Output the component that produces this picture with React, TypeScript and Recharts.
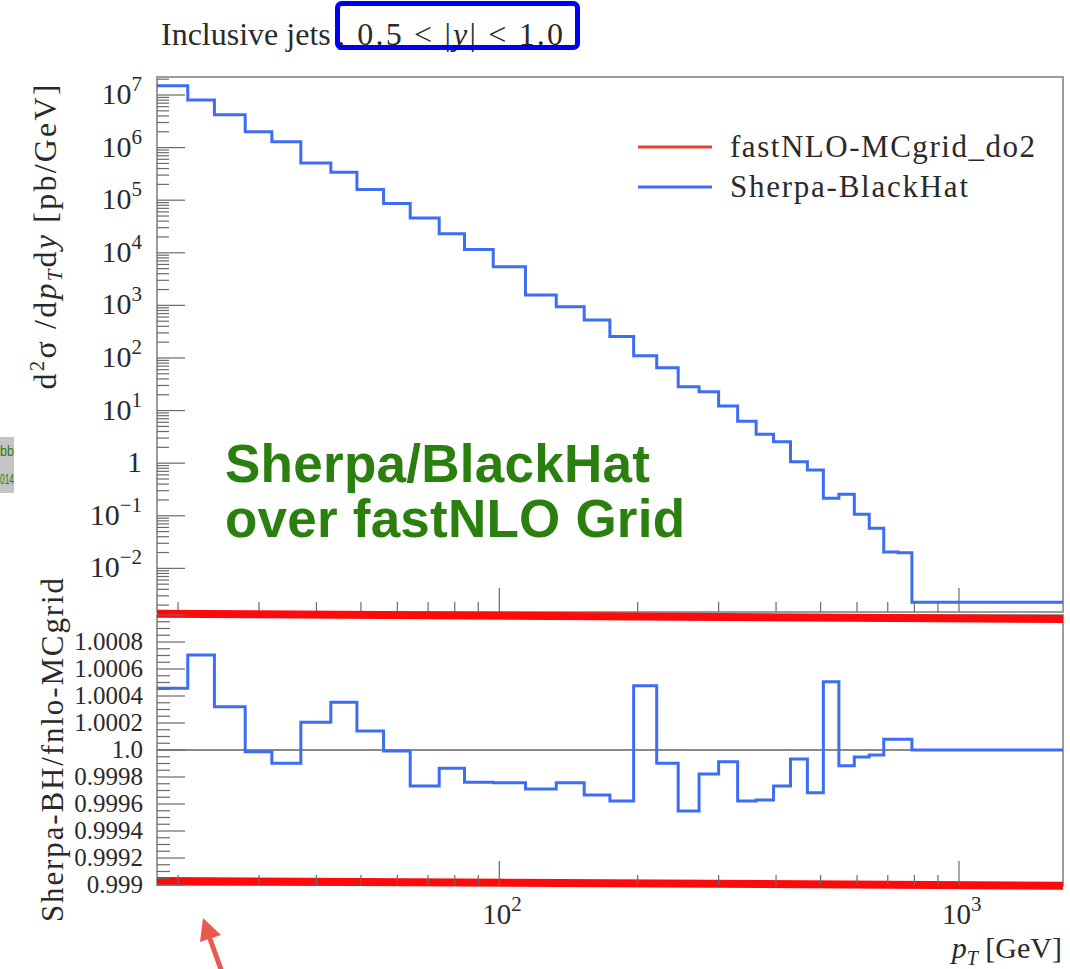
import React from 'react';
import { LineChart, Line, XAxis, YAxis, ReferenceLine, ReferenceArea, Legend } from 'recharts';

// pT bin edges [GeV] (last edge closes the final bin)
const ptEdges = [
  18, 21, 24, 28, 32, 37, 43, 49, 56, 64, 74, 84, 97, 114, 133, 153, 174, 196, 220, 245, 272, 300,
  330, 362, 395, 430, 468, 507, 548, 592, 638, 686, 737, 790, 846, 905, 967, 1032, 1101, 1172, 1248,
  1327, 1410, 1497, 1588, 1684,
];

// Sherpa-BlackHat d2sigma/dpT dy [pb/GeV], one value per bin
const xsecValues = [
  1.5e7, 8.0e6, 4.2e6, 2.0e6, 1.29e6, 5.1e5, 3.4e5, 1.6e5, 8.7e4, 4.6e4, 2.3e4, 1.16e4, 5.4e3, 1.57e3,
  940, 530, 255, 110, 65, 28.4, 22.9, 12.2, 6.3, 3.54, 2.56, 1.07, 0.74, 0.215, 0.256, 0.107, 0.058,
  0.0205, 0.0198, 0.00226, 0.00226, 0.00226, 0.00226, 0.00226, 0.00226, 0.00226, 0.00226, 0.00226,
  0.00226, 0.00226, 0.00226,
];

// Sherpa-BH / fnlo-MCgrid ratio, one value per bin
const ratioValues = [
  1.000457, 1.000704, 1.000321, 0.999987, 0.999901, 1.000205, 1.000353, 1.000141, 0.999993, 0.999733,
  0.999864, 0.999761, 0.999758, 0.999711, 0.999758, 0.999667, 0.999622, 1.000476, 0.999901, 0.999548,
  0.999822, 0.999913, 0.999622, 0.99963, 0.999733, 0.999933, 0.999684, 1.000506, 0.999884, 0.999948,
  0.999963, 1.000079, 1.000079, 1.0, 1.0, 1.0, 1.0, 1.0, 1.0, 1.0, 1.0, 1.0, 1.0, 1.0, 1.0,
];

const seriesNames = ['fastNLO-MCgrid_do2', 'Sherpa-BlackHat'];
const seriesColors = ['#e2452f', '#3d6df2'];

const ptMajorTicks = [100, 1000];
const ptMajorExponents = [2, 3];
const ptMinorTicks = [20, 30, 40, 50, 60, 70, 80, 90, 200, 300, 400, 500, 600, 700, 800, 900];

const xsecMajorExponents = [-2, -1, 0, 1, 2, 3, 4, 5, 6, 7];
const ratioMajorTicks = [0.999, 0.9992, 0.9994, 0.9996, 0.9998, 1.0, 1.0002, 1.0004, 1.0006, 1.0008, 1.001];
const ratioTickLabels = ['0.999', '0.9992', '0.9994', '0.9996', '0.9998', '1.0', '1.0002', '1.0004', '1.0006', '1.0008', ''];

const PT_MIN = 18;
const PT_MAX = 1684;
const XSEC_MIN = 1.48e-3;
const XSEC_MAX = 2.2e7;
const RATIO_MIN = 0.999;
const RATIO_MAX = 1.001;

const SERIF = '"Liberation Serif", "DejaVu Serif", serif';
const SANS = '"Liberation Sans", Arial, sans-serif';
const TEXT = '#2a2a2a';
const TICK = '#6a6a6a';
const GREEN = '#2a7f0e';

const serifStyle = (size: number): React.CSSProperties => ({ fontFamily: SERIF, fontSize: size });

// histogram as step line: one point per low edge, last edge repeats the last bin
const histData = ptEdges.map((pt, i) => {
  const b = Math.min(i, xsecValues.length - 1);
  return { pt, xsec: xsecValues[b], ratio: ratioValues[b] };
});

const ptTicks = [...ptMinorTicks, ...ptMajorTicks].sort((a, b) => a - b);

const xsecTicks: number[] = [];
for (let k = -3; k <= 7; k++) {
  for (let m = 1; m <= 9; m++) {
    const v = m * Math.pow(10, k);
    if (v >= XSEC_MIN && v <= XSEC_MAX) xsecTicks.push(v);
  }
}

const ratioTicks: number[] = [];
for (let i = 0; i < ratioMajorTicks.length; i++) {
  ratioTicks.push(ratioMajorTicks[i]);
  if (i < ratioMajorTicks.length - 1) {
    const step = (ratioMajorTicks[i + 1] - ratioMajorTicks[i]) / 4;
    for (let j = 1; j < 4; j++) ratioTicks.push(ratioMajorTicks[i] + j * step);
  }
}

const XsecTick = ({ x, y, payload }: any) => {
  const v = payload.value as number;
  const exp = Math.round(Math.log10(v));
  const major = xsecMajorExponents.includes(exp) && Math.abs(v / Math.pow(10, exp) - 1) < 1e-6;
  return (
    <g>
      <line x1={x} x2={x + (major ? 28 : 12)} y1={y} y2={y} stroke={TICK} strokeWidth={1.2} />
      {major && (
        <text x={x - 15} y={y + 9} textAnchor="end" style={serifStyle(30)} fill={TEXT}>
          {exp === 0 ? '1' : '10'}
          {exp !== 0 && (
            <tspan dy={-13} style={serifStyle(21)}>
              {exp < 0 ? `\u2212${-exp}` : `${exp}`}
            </tspan>
          )}
        </text>
      )}
    </g>
  );
};

const RatioTick = ({ x, y, payload }: any) => {
  const v = payload.value as number;
  const idx = ratioMajorTicks.findIndex((t) => Math.abs(t - v) < 1e-7);
  const major = idx >= 0;
  return (
    <g>
      <line x1={x} x2={x + (major ? 28 : 13)} y1={y} y2={y} stroke={TICK} strokeWidth={1.2} />
      {major && ratioTickLabels[idx] && (
        <text x={x - 14} y={y + 8} textAnchor="end" style={serifStyle(25)} fill={TEXT}>
          {ratioTickLabels[idx]}
        </text>
      )}
    </g>
  );
};

const PtTick = ({ x, y, payload, showLabels }: any) => {
  const v = payload.value as number;
  const idx = ptMajorTicks.indexOf(v);
  const major = idx >= 0;
  return (
    <g>
      <line x1={x} x2={x} y1={y} y2={y - (major ? 24 : 10)} stroke={TICK} strokeWidth={1.2} />
      {major && showLabels && (
        <text x={x - 17} y={y + 39} style={serifStyle(29)} fill={TEXT}>
          10
          <tspan dy={-13} style={serifStyle(21)}>
            {ptMajorExponents[idx]}
          </tspan>
        </text>
      )}
    </g>
  );
};

const LegendBox = () => (
  <svg width={430} height={90}>
    {seriesNames.map((name, i) => (
      <g key={name}>
        <line x1={8} x2={82} y1={27 + i * 40} y2={27 + i * 40} stroke={seriesColors[i]} strokeWidth={3} />
        <text
          x={100}
          y={37 + i * 40}
          style={serifStyle(31)}
          fill={TEXT}
          textLength={i === 0 ? 305 : 238}
          lengthAdjust="spacing"
        >
          {name}
        </text>
      </g>
    ))}
  </svg>
);

const App: React.FC = () => {
  return (
    <div style={{ position: 'absolute', left: 0, top: 0, width: 1070, height: 969, background: '#fff', overflow: 'hidden' }}>
      <div style={{ position: 'absolute', left: 0, top: 0 }}>
        <LineChart width={1070} height={620} data={histData} margin={{ top: 77, right: 7, bottom: 7, left: 156 }}>
          <XAxis
            type="number"
            dataKey="pt"
            scale="log"
            domain={[PT_MIN, PT_MAX]}
            allowDataOverflow
            ticks={ptTicks}
            interval={0}
            height={1}
            tickSize={0}
            tickMargin={0}
            axisLine={false}
            tickLine={false}
            tick={(p: any) => <PtTick {...p} showLabels={false} />}
          />
          <YAxis
            type="number"
            scale="log"
            domain={[XSEC_MIN, XSEC_MAX]}
            allowDataOverflow
            ticks={xsecTicks}
            interval={0}
            width={1}
            tickSize={0}
            tickMargin={0}
            axisLine={false}
            tickLine={false}
            tick={(p: any) => <XsecTick {...p} />}
          />
          <ReferenceArea
            x1={PT_MIN}
            x2={PT_MAX}
            y1={XSEC_MIN}
            y2={XSEC_MAX}
            fill="none"
            stroke="#9c9c9c"
            strokeWidth={2}
            ifOverflow="visible"
          />
          <Line
            dataKey="xsec"
            type="stepAfter"
            stroke={seriesColors[1]}
            strokeWidth={3}
            dot={false}
            isAnimationActive={false}
          />
          <Legend
            layout="vertical"
            align="center"
            verticalAlign="middle"
            content={() => <LegendBox />}
            wrapperStyle={{ left: 630, top: 120, width: 430, height: 90 }}
          />
        </LineChart>
      </div>

      <div style={{ position: 'absolute', left: 0, top: 600 }}>
        <LineChart width={1070} height={369} data={histData} margin={{ top: 15, right: 7, bottom: 83, left: 156 }}>
          <XAxis
            type="number"
            dataKey="pt"
            scale="log"
            domain={[PT_MIN, PT_MAX]}
            allowDataOverflow
            ticks={ptTicks}
            interval={0}
            height={1}
            tickSize={0}
            tickMargin={0}
            axisLine={false}
            tickLine={false}
            tick={(p: any) => <PtTick {...p} showLabels />}
          />
          <YAxis
            type="number"
            domain={[RATIO_MIN, RATIO_MAX]}
            allowDataOverflow
            ticks={ratioTicks}
            interval={0}
            width={1}
            tickSize={0}
            tickMargin={0}
            axisLine={false}
            tickLine={false}
            tick={(p: any) => <RatioTick {...p} />}
          />
          <ReferenceArea
            x1={PT_MIN}
            x2={PT_MAX}
            y1={RATIO_MIN}
            y2={RATIO_MAX}
            fill="none"
            stroke="#9c9c9c"
            strokeWidth={2}
            ifOverflow="visible"
          />
          <ReferenceLine y={1} stroke="#8a8a8a" strokeWidth={2} />
          <Line
            dataKey="ratio"
            type="stepAfter"
            stroke={seriesColors[1]}
            strokeWidth={3}
            dot={false}
            isAnimationActive={false}
          />
          {/* thick red highlight lines drawn over the panel edges */}
          <ReferenceLine
            segment={[{ x: PT_MIN, y: 1.00101 }, { x: PT_MAX, y: 1.00097 }]}
            stroke="#ff0a0a"
            strokeWidth={8}
            ifOverflow="visible"
          />
          <ReferenceLine
            segment={[{ x: PT_MIN, y: 0.99903 }, { x: PT_MAX, y: 0.998995 }]}
            stroke="#ff0a0a"
            strokeWidth={8}
            ifOverflow="visible"
          />
        </LineChart>
      </div>

      <svg width={1070} height={969} style={{ position: 'absolute', left: 0, top: 0, pointerEvents: 'none' }}>
        <text x={161} y={45} style={serifStyle(32)} fill={TEXT}>
          Inclusive jets
        </text>
        <text x={337} y={45} style={serifStyle(32)} fill={TEXT} textLength={226} lengthAdjust="spacing">
          , 0.5 &lt; |<tspan fontStyle="italic">y</tspan>| &lt; 1.0
        </text>
        <rect x={337.5} y={3.5} width={240} height={44} rx={4} fill="none" stroke="#0000f5" strokeWidth={5} />

        <text
          transform="translate(56,237) rotate(-90)"
          textAnchor="middle"
          style={serifStyle(32)}
          fill={TEXT}
          textLength={305}
          lengthAdjust="spacing"
        >
          d<tspan dy={-12} style={serifStyle(21)}>2</tspan>
          <tspan dy={12}>σ /d</tspan>
          <tspan fontStyle="italic">p</tspan>
          <tspan fontStyle="italic" style={serifStyle(21)} dy={6}>T</tspan>
          <tspan dy={-6}>d</tspan>
          <tspan fontStyle="italic">y</tspan> [pb/GeV]
        </text>

        <text
          transform="translate(63,750) rotate(-90)"
          textAnchor="middle"
          style={serifStyle(31)}
          fill={TEXT}
          textLength={344}
          lengthAdjust="spacing"
        >
          Sherpa-BH/fnlo-MCgrid
        </text>

        <text x={1062} y={958} textAnchor="end" style={serifStyle(30)} fill={TEXT}>
          <tspan fontStyle="italic">p</tspan>
          <tspan fontStyle="italic" style={serifStyle(20)} dy={7}>T</tspan>
          <tspan dy={-7}> [GeV]</tspan>
        </text>

        <text x={225} y={482} fontFamily={SANS} fontWeight="bold" fontSize={53} fill={GREEN} textLength={425} lengthAdjust="spacing">
          Sherpa/BlackHat
        </text>
        <text x={225} y={537} fontFamily={SANS} fontWeight="bold" fontSize={53} fill={GREEN} textLength={460} lengthAdjust="spacing">
          over fastNLO Grid
        </text>

        <rect x={0} y={437} width={14} height={56} fill="#c4c4c4" />
        <text x={0} y={456} fontFamily={SANS} fontSize={14} fill={GREEN} textLength={14} lengthAdjust="spacingAndGlyphs">bb</text>
        <text x={0} y={484} fontFamily={SANS} fontSize={14} fill={GREEN} textLength={14} lengthAdjust="spacingAndGlyphs">014</text>

        <line x1={223} y1={975} x2={209} y2={936} stroke="#e85a4f" strokeWidth={5} />
        <polygon points="203,918 221,935 200,942" fill="#e85a4f" />
      </svg>
    </div>
  );
};

export default App;
